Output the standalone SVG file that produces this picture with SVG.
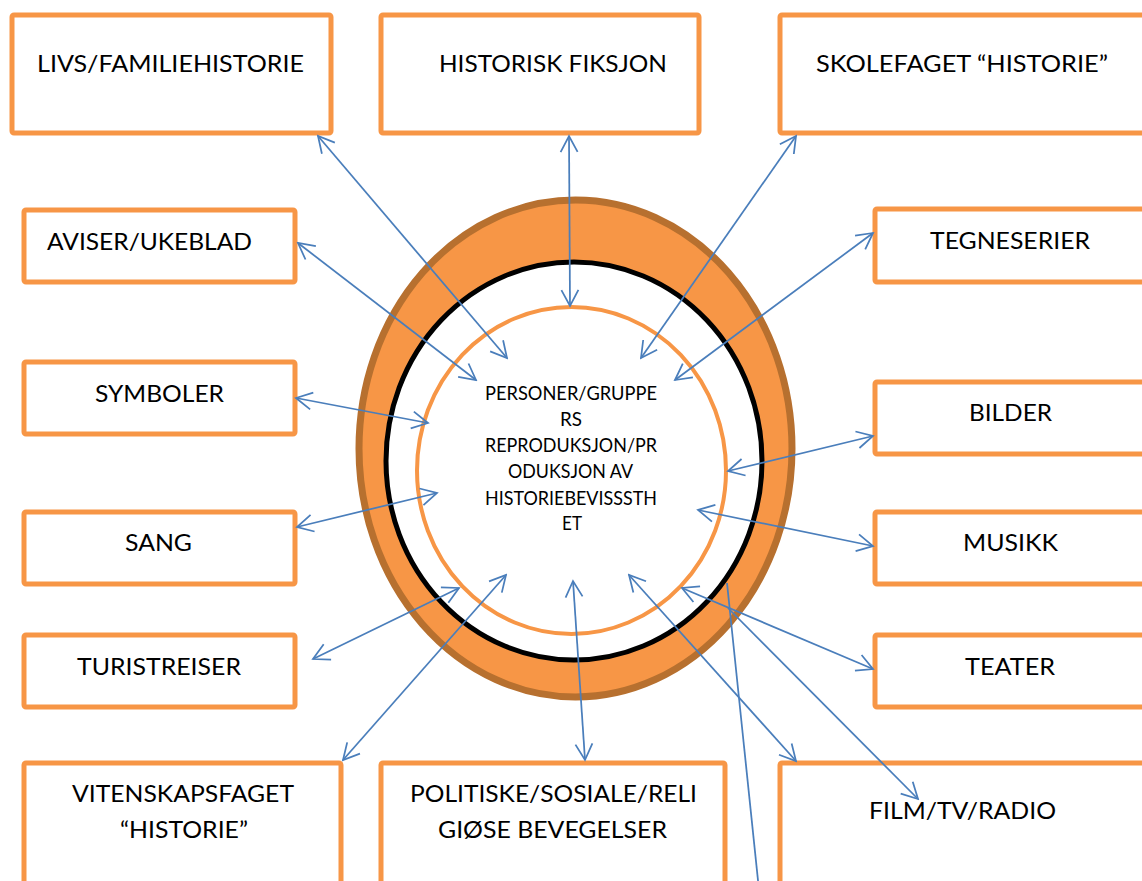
<svg xmlns="http://www.w3.org/2000/svg" width="1142" height="881" viewBox="0 0 1142 881">
<style>
.box{fill:#fff;stroke:#F79646;stroke-width:5}
.lbl{font-family:Lato,"Open Sans","Liberation Sans",sans-serif;font-size:23.5px;fill:#000}
.ctr{font-family:Lato,"Open Sans","Liberation Sans",sans-serif;font-size:19px;fill:#000}
.con{stroke:#4A7EBB;stroke-width:1.75;fill:none}
</style>
<defs>
<marker id="ah" markerUnits="userSpaceOnUse" viewBox="0 0 20 20" markerWidth="20" markerHeight="20" refX="18" refY="10" orient="auto-start-reverse">
<path d="M2,1.5 L18,10 L2,18.5" fill="none" stroke="#4A7EBB" stroke-width="1.75"/>
</marker>
</defs>
<rect width="1142" height="881" fill="#fff"/>
<g id="center">
<ellipse cx="575.5" cy="448.5" rx="216.5" ry="248.5" fill="#F79646" stroke="#B7702F" stroke-width="7"/>
<ellipse cx="574" cy="461" rx="188" ry="199" fill="#fff" stroke="#000" stroke-width="5"/>
<ellipse cx="571.5" cy="470.5" rx="154.5" ry="163.5" fill="#fff" stroke="#F79646" stroke-width="4"/>
<text class="ctr" x="485" y="400" textLength="172" lengthAdjust="spacingAndGlyphs">PERSONER/GRUPPE</text>
<text class="ctr" x="560" y="426" textLength="22" lengthAdjust="spacingAndGlyphs">RS</text>
<text class="ctr" x="485" y="452" textLength="172" lengthAdjust="spacingAndGlyphs">REPRODUKSJON/PR</text>
<text class="ctr" x="508" y="478" textLength="125" lengthAdjust="spacingAndGlyphs">ODUKSJON AV</text>
<text class="ctr" x="485" y="505" textLength="172" lengthAdjust="spacingAndGlyphs">HISTORIEBEVISSSTH</text>
<text class="ctr" x="562" y="530" textLength="20" lengthAdjust="spacingAndGlyphs">ET</text>
</g>
<g id="n-livs"><rect class="box" x="12" y="15" width="319" height="118" rx="2"/><text class="lbl" x="37" y="72" textLength="267" lengthAdjust="spacingAndGlyphs">LIVS/FAMILIEHISTORIE</text></g>
<g id="n-fiksjon"><rect class="box" x="381" y="15" width="318" height="118" rx="2"/><text class="lbl" x="439" y="72" textLength="228" lengthAdjust="spacingAndGlyphs">HISTORISK FIKSJON</text></g>
<g id="n-skolefaget"><rect class="box" x="780" y="15" width="400" height="118" rx="2"/><text class="lbl" x="816" y="72" textLength="292" lengthAdjust="spacingAndGlyphs">SKOLEFAGET “HISTORIE”</text></g>
<g id="n-aviser"><rect class="box" x="24" y="210" width="271" height="72" rx="2"/><text class="lbl" x="47" y="250" textLength="205" lengthAdjust="spacingAndGlyphs">AVISER/UKEBLAD</text></g>
<g id="n-tegneserier"><rect class="box" x="875" y="209" width="300" height="73" rx="2"/><text class="lbl" x="930" y="249" textLength="160" lengthAdjust="spacingAndGlyphs">TEGNESERIER</text></g>
<g id="n-symboler"><rect class="box" x="24" y="362" width="271" height="72" rx="2"/><text class="lbl" x="95" y="402" textLength="129" lengthAdjust="spacingAndGlyphs">SYMBOLER</text></g>
<g id="n-bilder"><rect class="box" x="875" y="382" width="300" height="72" rx="2"/><text class="lbl" x="969" y="421" textLength="83" lengthAdjust="spacingAndGlyphs">BILDER</text></g>
<g id="n-sang"><rect class="box" x="24" y="512" width="271" height="72" rx="2"/><text class="lbl" x="125" y="551" textLength="67" lengthAdjust="spacingAndGlyphs">SANG</text></g>
<g id="n-musikk"><rect class="box" x="875" y="512" width="300" height="72" rx="2"/><text class="lbl" x="963" y="551" textLength="95" lengthAdjust="spacingAndGlyphs">MUSIKK</text></g>
<g id="n-turistreiser"><rect class="box" x="24" y="635" width="271" height="72" rx="2"/><text class="lbl" x="77" y="675" textLength="164" lengthAdjust="spacingAndGlyphs">TURISTREISER</text></g>
<g id="n-teater"><rect class="box" x="875" y="635" width="300" height="72" rx="2"/><text class="lbl" x="965" y="675" textLength="90" lengthAdjust="spacingAndGlyphs">TEATER</text></g>
<g id="n-vitenskapsfaget"><rect class="box" x="24" y="763" width="317" height="140" rx="2"/><text class="lbl" x="72" y="802" textLength="222" lengthAdjust="spacingAndGlyphs">VITENSKAPSFAGET</text><text class="lbl" x="120" y="838" textLength="128" lengthAdjust="spacingAndGlyphs">“HISTORIE”</text></g>
<g id="n-politiske"><rect class="box" x="381" y="763" width="344" height="140" rx="2"/><text class="lbl" x="410" y="802" textLength="287" lengthAdjust="spacingAndGlyphs">POLITISKE/SOSIALE/RELI</text><text class="lbl" x="438" y="838" textLength="229" lengthAdjust="spacingAndGlyphs">GIØSE BEVEGELSER</text></g>
<g id="n-film"><rect class="box" x="780" y="763" width="400" height="140" rx="2"/><text class="lbl" x="869" y="819" textLength="187" lengthAdjust="spacingAndGlyphs">FILM/TV/RADIO</text></g>
<g id="connectors">
<line class="con" x1="318" y1="136" x2="507" y2="358" marker-start="url(#ah)" marker-end="url(#ah)"/>
<line class="con" x1="569" y1="136" x2="570" y2="306" marker-start="url(#ah)" marker-end="url(#ah)"/>
<line class="con" x1="796" y1="136" x2="641" y2="358" marker-start="url(#ah)" marker-end="url(#ah)"/>
<line class="con" x1="298" y1="243" x2="476" y2="380" marker-start="url(#ah)" marker-end="url(#ah)"/>
<line class="con" x1="873" y1="233" x2="675" y2="380" marker-start="url(#ah)" marker-end="url(#ah)"/>
<line class="con" x1="296" y1="398" x2="428" y2="423" marker-start="url(#ah)" marker-end="url(#ah)"/>
<line class="con" x1="297" y1="527" x2="437" y2="493" marker-start="url(#ah)" marker-end="url(#ah)"/>
<line class="con" x1="873" y1="436" x2="728" y2="471" marker-start="url(#ah)" marker-end="url(#ah)"/>
<line class="con" x1="698" y1="510" x2="873" y2="546" marker-start="url(#ah)" marker-end="url(#ah)"/>
<line class="con" x1="313" y1="659" x2="459" y2="588" marker-start="url(#ah)" marker-end="url(#ah)"/>
<line class="con" x1="343" y1="760" x2="506" y2="575" marker-start="url(#ah)" marker-end="url(#ah)"/>
<line class="con" x1="573" y1="581" x2="585" y2="760" marker-start="url(#ah)" marker-end="url(#ah)"/>
<line class="con" x1="629" y1="575" x2="796" y2="761" marker-start="url(#ah)" marker-end="url(#ah)"/>
<line class="con" x1="682" y1="588" x2="873" y2="669" marker-start="url(#ah)" marker-end="url(#ah)"/>
<line class="con" x1="728" y1="608" x2="918" y2="799" marker-end="url(#ah)"/>
<line class="con" x1="727" y1="583" x2="759" y2="890"/>
</g>
</svg>
